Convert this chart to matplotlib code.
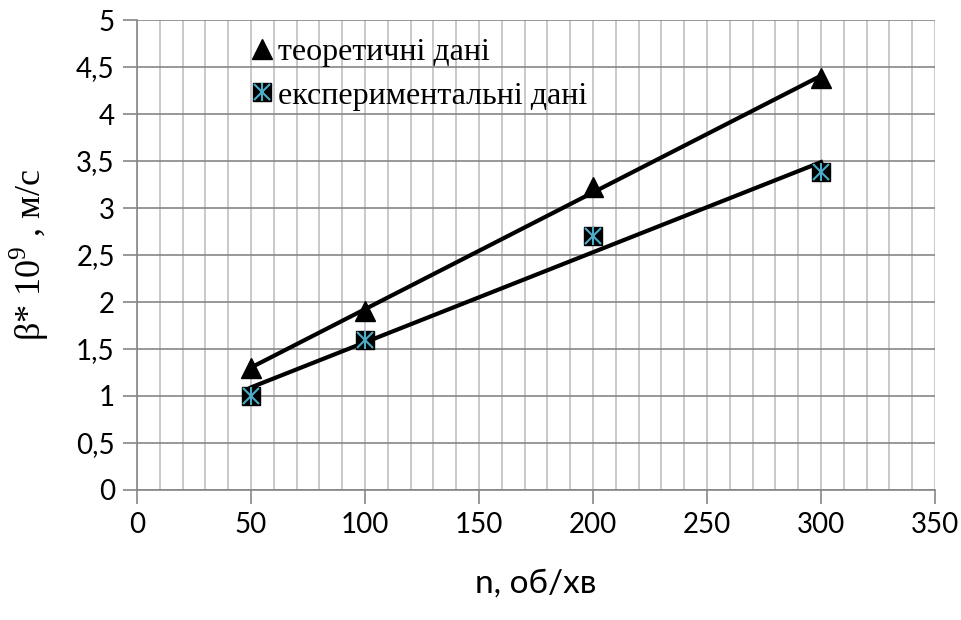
import matplotlib.pyplot as plt
import numpy as np
from matplotlib.ticker import MultipleLocator
from matplotlib.lines import Line2D

plt.rcParams['mathtext.fontset'] = 'custom'
plt.rcParams['mathtext.rm'] = 'Liberation Serif'

# speed n, rev/min
n = [50, 100, 200, 300]
beta_theory = [1.3, 1.9, 3.22, 4.38]
beta_exp = [1.0, 1.6, 2.7, 3.38]

x_ticks = [0, 50, 100, 150, 200, 250, 300, 350]
y_ticks = [0, 0.5, 1, 1.5, 2, 2.5, 3, 3.5, 4, 4.5, 5]
y_labels = ['0', '0,5', '1', '1,5', '2', '2,5', '3', '3,5', '4', '4,5', '5']

grey = '#868686'
cyan = '#4bacc6'

fig = plt.figure(figsize=(9.62, 6.2), dpi=100)
ax = fig.add_axes([0.1424, 0.2097, 0.972 - 0.1424, 0.9677 - 0.2097])

ax.set_xlim(0, 350)
ax.set_ylim(0, 5)
ax.set_xticks(x_ticks)
ax.set_yticks(y_ticks)
ax.set_yticklabels(y_labels)
ax.xaxis.set_minor_locator(MultipleLocator(10))

ax.grid(which='major', axis='y', color=grey, lw=1.2)
ax.grid(which='minor', axis='x', color='#c0c0c0', lw=1.2)
ax.grid(which='major', axis='x', color='#c0c0c0', lw=1.2)
ax.set_axisbelow(True)

for s in ['top', 'right']:
    ax.spines[s].set_visible(False)
for s in ['left', 'bottom']:
    ax.spines[s].set_color(grey)
    ax.spines[s].set_linewidth(1.2)

ax.tick_params(which='major', length=10, width=1.2, color=grey, labelsize=20, pad=6)
ax.tick_params(which='minor', length=0)
for lab in ax.get_xticklabels() + ax.get_yticklabels():
    lab.set_family('Lato')

# linear trend lines
xs = np.array([n[0], n[-1]])
k1, b1 = np.polyfit(n, beta_theory, 1)
k2, b2 = np.polyfit(n, beta_exp, 1)
ax.plot(xs, k1 * xs + b1, color='black', lw=3, zorder=3)
ax.plot(xs, k2 * xs + b2, color='black', lw=3, zorder=3)

# markers
ax.plot(n, beta_theory, '^', color='black', ms=14, zorder=4, clip_on=False)
ax.plot(n, beta_exp, 's', color='black', ms=13, zorder=4, clip_on=False)
ax.plot(n, beta_exp, 'x', color=cyan, ms=11, mew=1.5, zorder=5, clip_on=False)
ax.plot(n, beta_exp, '|', color=cyan, ms=13, mew=1.5, zorder=5, clip_on=False)

# legend
h1 = Line2D([], [], marker='^', color='black', ls='none', ms=14)
h2 = (Line2D([], [], marker='s', color='black', ls='none', ms=13),
      Line2D([], [], marker='x', color=cyan, ls='none', ms=11, mew=1.5),
      Line2D([], [], marker='|', color=cyan, ls='none', ms=13, mew=1.5))
leg = ax.legend([h1, h2], ['теоретичні дані', 'експериментальні дані'],
                loc='upper left', bbox_to_anchor=(0.127, 0.99), frameon=False,
                prop={'family': 'Liberation Serif', 'size': 23},
                handlelength=0.7, handletextpad=0.15, labelspacing=0.45,
                borderaxespad=0)

ax.set_xlabel('n, об/хв', family='Lato', fontsize=24, labelpad=22)
ax.set_ylabel(r'β* 10$^{9}$ , м/с', family='Liberation Serif', fontsize=26, labelpad=18)

fig.savefig('out.png', dpi=100)
